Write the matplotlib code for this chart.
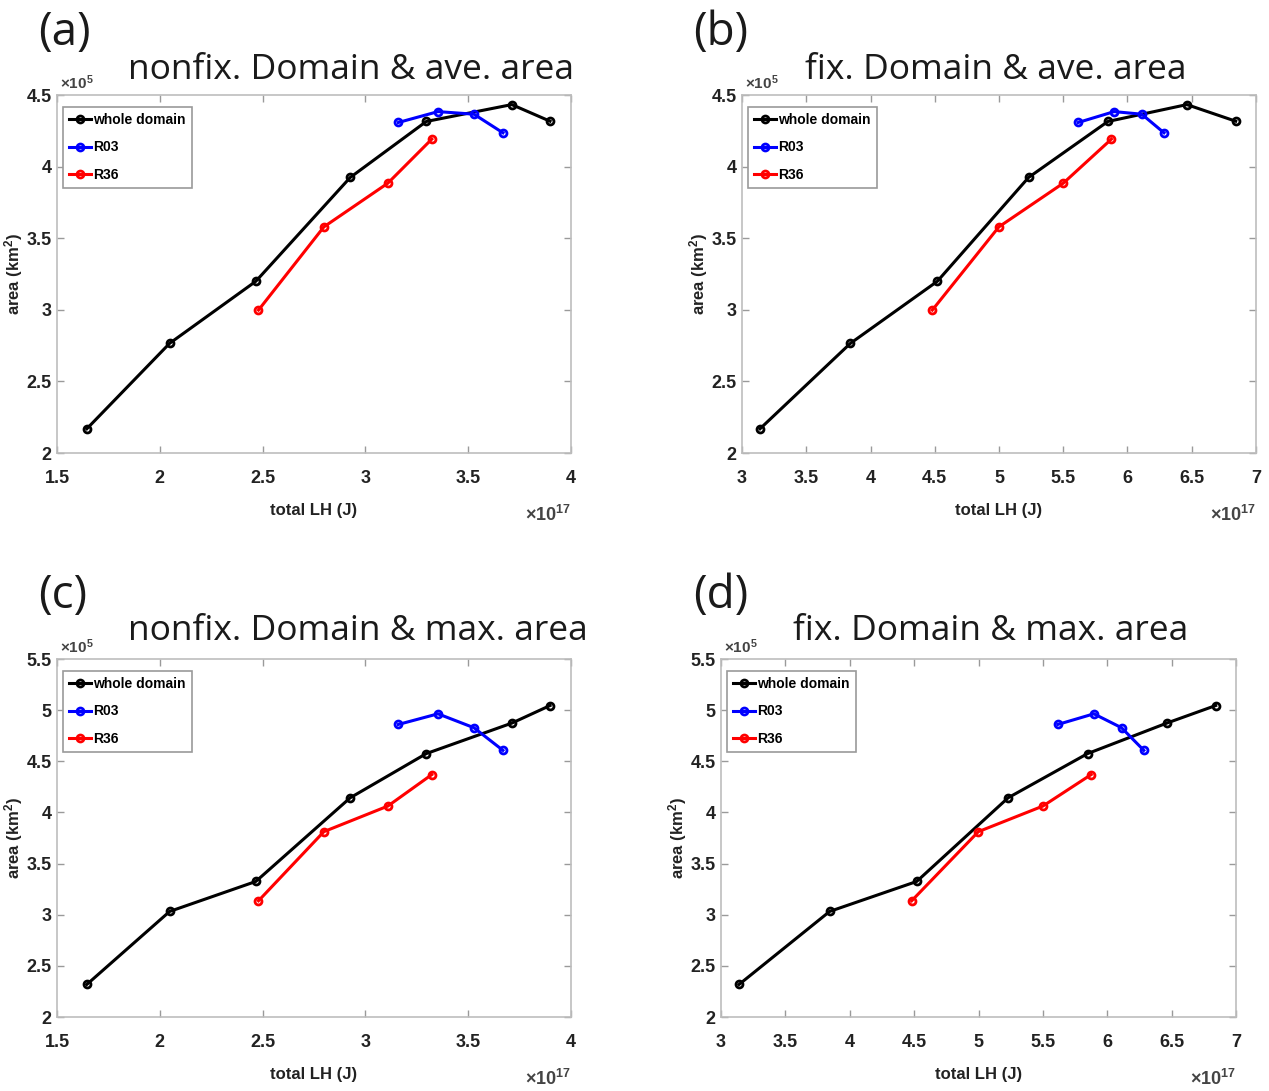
import numpy as np
import matplotlib
matplotlib.use("Agg")
import matplotlib.pyplot as plt
from matplotlib import font_manager

# narrow bold face for the axes text, if the system has one
installed = {f.name for f in font_manager.fontManager.ttflist}
axis_font = 'Liberation Sans Narrow' if 'Liberation Sans Narrow' in installed else 'Liberation Sans'

plt.rcParams['font.family'] = [axis_font, 'DejaVu Sans']
plt.rcParams['font.weight'] = 'bold'
plt.rcParams['axes.labelweight'] = 'bold'
plt.rcParams['mathtext.fontset'] = 'custom'
plt.rcParams['mathtext.rm'] = axis_font + ':bold'
plt.rcParams['mathtext.it'] = axis_font + ':bold'
plt.rcParams['mathtext.bf'] = axis_font + ':bold'

# total latent heating (x1e17 J)
lh_nonfix_whole = [1.645, 2.048, 2.467, 2.926, 3.296, 3.712, 3.898]
lh_nonfix_r03 = [3.160, 3.353, 3.528, 3.669]
lh_nonfix_r36 = [2.480, 2.798, 3.109, 3.323]

lh_fix_whole = [3.140, 3.844, 4.520, 5.230, 5.847, 6.462, 6.842]
lh_fix_r03 = [5.616, 5.896, 6.111, 6.284]
lh_fix_r36 = [4.481, 4.999, 5.500, 5.875]

# area (x1e5 km^2)
ave_whole = [2.169, 2.766, 3.199, 3.924, 4.315, 4.433, 4.317]
ave_r03 = [4.308, 4.384, 4.366, 4.236]
ave_r36 = [2.998, 3.579, 3.884, 4.192]

max_whole = [2.318, 3.032, 3.325, 4.143, 4.575, 4.873, 5.045]
max_r03 = [4.860, 4.964, 4.828, 4.607]
max_r36 = [3.136, 3.812, 4.062, 4.370]

W, H = 1269, 1091
fig = plt.figure(figsize=(W / 100, H / 100), dpi=100)


def px_axes(left, top, right, bottom):
    return fig.add_axes([left / W, 1 - bottom / H, (right - left) / W, (bottom - top) / H])


def draw_panel(ax, lh, area, xlim, ylim, xticks, yticks):
    x_whole, x_r03, x_r36 = lh
    y_whole, y_r03, y_r36 = area
    kw = dict(lw=2.2, marker='o', ms=5, mfc='none', mew=2)
    ax.plot(x_whole, y_whole, color='black', label='whole domain', **kw)
    ax.plot(x_r03, y_r03, color='blue', label='R03', **kw)
    ax.plot(x_r36, y_r36, color='red', label='R36', **kw)

    ax.set_xlim(*xlim)
    ax.set_ylim(*ylim)
    ax.set_xticks(xticks)
    ax.set_yticks(yticks)
    ax.set_xticklabels(['%g' % t for t in xticks])
    ax.set_yticklabels(['%g' % t for t in yticks])
    ax.tick_params(direction='in', top=True, right=True, length=5, width=1,
                   color='#9a9a9a', labelsize=13, labelcolor='#222222')
    ax.tick_params(axis='x', pad=12)
    ax.tick_params(axis='y', pad=4)
    for s in ax.spines.values():
        s.set_color('#bdbdbd')
        s.set_linewidth(1.2)

    ax.set_xlabel('total LH (J)', fontsize=12, color='#222222')
    ax.xaxis.set_label_coords(0.5, -57 / 358)
    ax.xaxis.label.set_va('center')
    ax.set_ylabel('area (km$^2$)', fontsize=12, color='#222222')
    ax.yaxis.set_label_coords(-43 / 514, 0.5)
    ax.yaxis.label.set_va('center')

    ax.text(0.005, 1.008, r'$\times10^5$', transform=ax.transAxes,
            ha='left', va='bottom', fontsize=11, color='#444444')
    ax.text(1.0, -0.145, r'$\times10^{17}$', transform=ax.transAxes,
            ha='right', va='top', fontsize=13, color='#444444')

    leg = ax.legend(loc='upper left', bbox_to_anchor=(6 / 514, 1 - 12 / 358),
                    borderaxespad=0, fancybox=False, fontsize=10,
                    handlelength=1.6, handletextpad=0.1, borderpad=0.45,
                    labelspacing=0.95, framealpha=1)
    leg.get_frame().set_edgecolor('#9a9a9a')
    leg.get_frame().set_linewidth(1.2)


x_nonfix = [1.5, 2, 2.5, 3, 3.5, 4]
x_fix = [3, 3.5, 4, 4.5, 5, 5.5, 6, 6.5, 7]
y_ave = [2, 2.5, 3, 3.5, 4, 4.5]
y_max = [2, 2.5, 3, 3.5, 4, 4.5, 5, 5.5]

ax_a = px_axes(57, 95, 571, 453)
draw_panel(ax_a, (lh_nonfix_whole, lh_nonfix_r03, lh_nonfix_r36),
           (ave_whole, ave_r03, ave_r36), (1.5, 4), (2, 4.5), x_nonfix, y_ave)

ax_b = px_axes(742, 95, 1256, 453)
draw_panel(ax_b, (lh_fix_whole, lh_fix_r03, lh_fix_r36),
           (ave_whole, ave_r03, ave_r36), (3, 7), (2, 4.5), x_fix, y_ave)

ax_c = px_axes(57, 659, 571, 1017)
draw_panel(ax_c, (lh_nonfix_whole, lh_nonfix_r03, lh_nonfix_r36),
           (max_whole, max_r03, max_r36), (1.5, 4), (2, 5.5), x_nonfix, y_max)

ax_d = px_axes(721, 659, 1236, 1017)
draw_panel(ax_d, (lh_fix_whole, lh_fix_r03, lh_fix_r36),
           (max_whole, max_r03, max_r36), (3, 7), (2, 5.5), x_fix, y_max)

# panel letters and titles
title_kw = dict(family=['Open Sans', 'DejaVu Sans'], weight='normal', color='#1a1a1a', va='baseline')
panels = [
    (38, 45, '(a)', 128, 79, 'nonfix. Domain & ave. area'),
    (693, 45, '(b)', 805, 79, 'fix. Domain & ave. area'),
    (38, 608, '(c)', 128, 640, 'nonfix. Domain & max. area'),
    (693, 608, '(d)', 793, 640, 'fix. Domain & max. area'),
]
for lx, ly, letter, tx, ty, title in panels:
    fig.text(lx / W, 1 - ly / H, letter, fontsize=33, **title_kw)
    fig.text(tx / W, 1 - ty / H, title, fontsize=25.5, **title_kw)

fig.savefig('out.png', dpi=100)
